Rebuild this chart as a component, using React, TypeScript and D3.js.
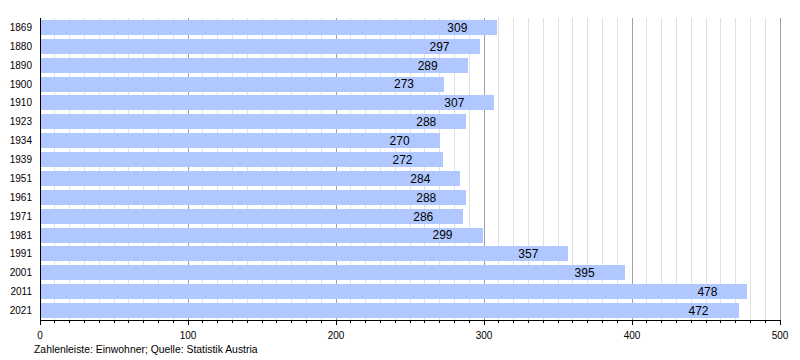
import React from 'react';
import * as d3 from 'd3';

const years = ['1869', '1880', '1890', '1900', '1910', '1923', '1934', '1939', '1951', '1961', '1971', '1981', '1991', '2001', '2011', '2021'];
const population = [309, 297, 289, 273, 307, 288, 270, 272, 284, 288, 286, 299, 357, 395, 478, 472];
const xTicks = [0, 100, 200, 300, 400, 500];
const footnote = 'Zahlenleiste: Einwohner; Quelle: Statistik Austria';

const W = 800;
const H = 360;
const left = 40;
const right = 780;
const top = 18;
const bottom = 320;

const App = () => {
  const x = d3.scaleLinear().domain([0, 500]).range([left, right]);
  const y = d3.scaleBand().domain(years).range([top, bottom]).paddingInner(0.2).paddingOuter(0.1);
  const minor = d3.range(0, 501, 10);
  const font = 'Liberation Sans, Arial, sans-serif';

  return (
    <svg width={W} height={H} style={{ position: 'absolute', left: 0, top: 0 }} fontFamily={font}>
      <rect width={W} height={H} fill="#fff" />
      {/* grid */}
      {minor.map(v => (
        <line key={'g' + v} x1={x(v)} x2={x(v)} y1={top} y2={bottom}
          stroke={v % 100 === 0 ? '#a0a0a0' : '#e0e0e0'} strokeWidth={1} shapeRendering="crispEdges" />
      ))}
      {/* bars */}
      {years.map((yr, i) => (
        <rect key={yr} x={x(0)} y={y(yr)} width={x(population[i]) - x(0)} height={y.bandwidth()} fill="#b0c8ff" shapeRendering="crispEdges" />
      ))}
      {years.map((yr, i) => (
        <text key={'v' + yr} x={x(population[i]) - 30} y={(y(yr) as number) + y.bandwidth() / 2} dy="0.36em"
          textAnchor="end" fontSize={12} fill="#000">{population[i]}</text>
      ))}
      {years.map(yr => (
        <text key={'l' + yr} x={left - 8} y={(y(yr) as number) + y.bandwidth() / 2} dy="0.35em"
          textAnchor="end" fontSize={10} fill="#000">{yr}</text>
      ))}
      {/* axes */}
      <line x1={left} x2={left} y1={top} y2={bottom + 5} stroke="#000" shapeRendering="crispEdges" />
      <line x1={left} x2={right} y1={bottom} y2={bottom} stroke="#000" shapeRendering="crispEdges" />
      {minor.map(v => (
        <line key={'t' + v} x1={x(v)} x2={x(v)} y1={bottom} y2={bottom + (v % 100 === 0 ? 5 : 3)} stroke="#000" shapeRendering="crispEdges" />
      ))}
      {xTicks.map(v => (
        <text key={'x' + v} x={x(v)} y={bottom + 19} textAnchor="middle" fontSize={10} fill="#000">{v}</text>
      ))}
      <text x={34} y={353} fontSize={10.4} fill="#000">{footnote}</text>
    </svg>
  );
};

export default App;
